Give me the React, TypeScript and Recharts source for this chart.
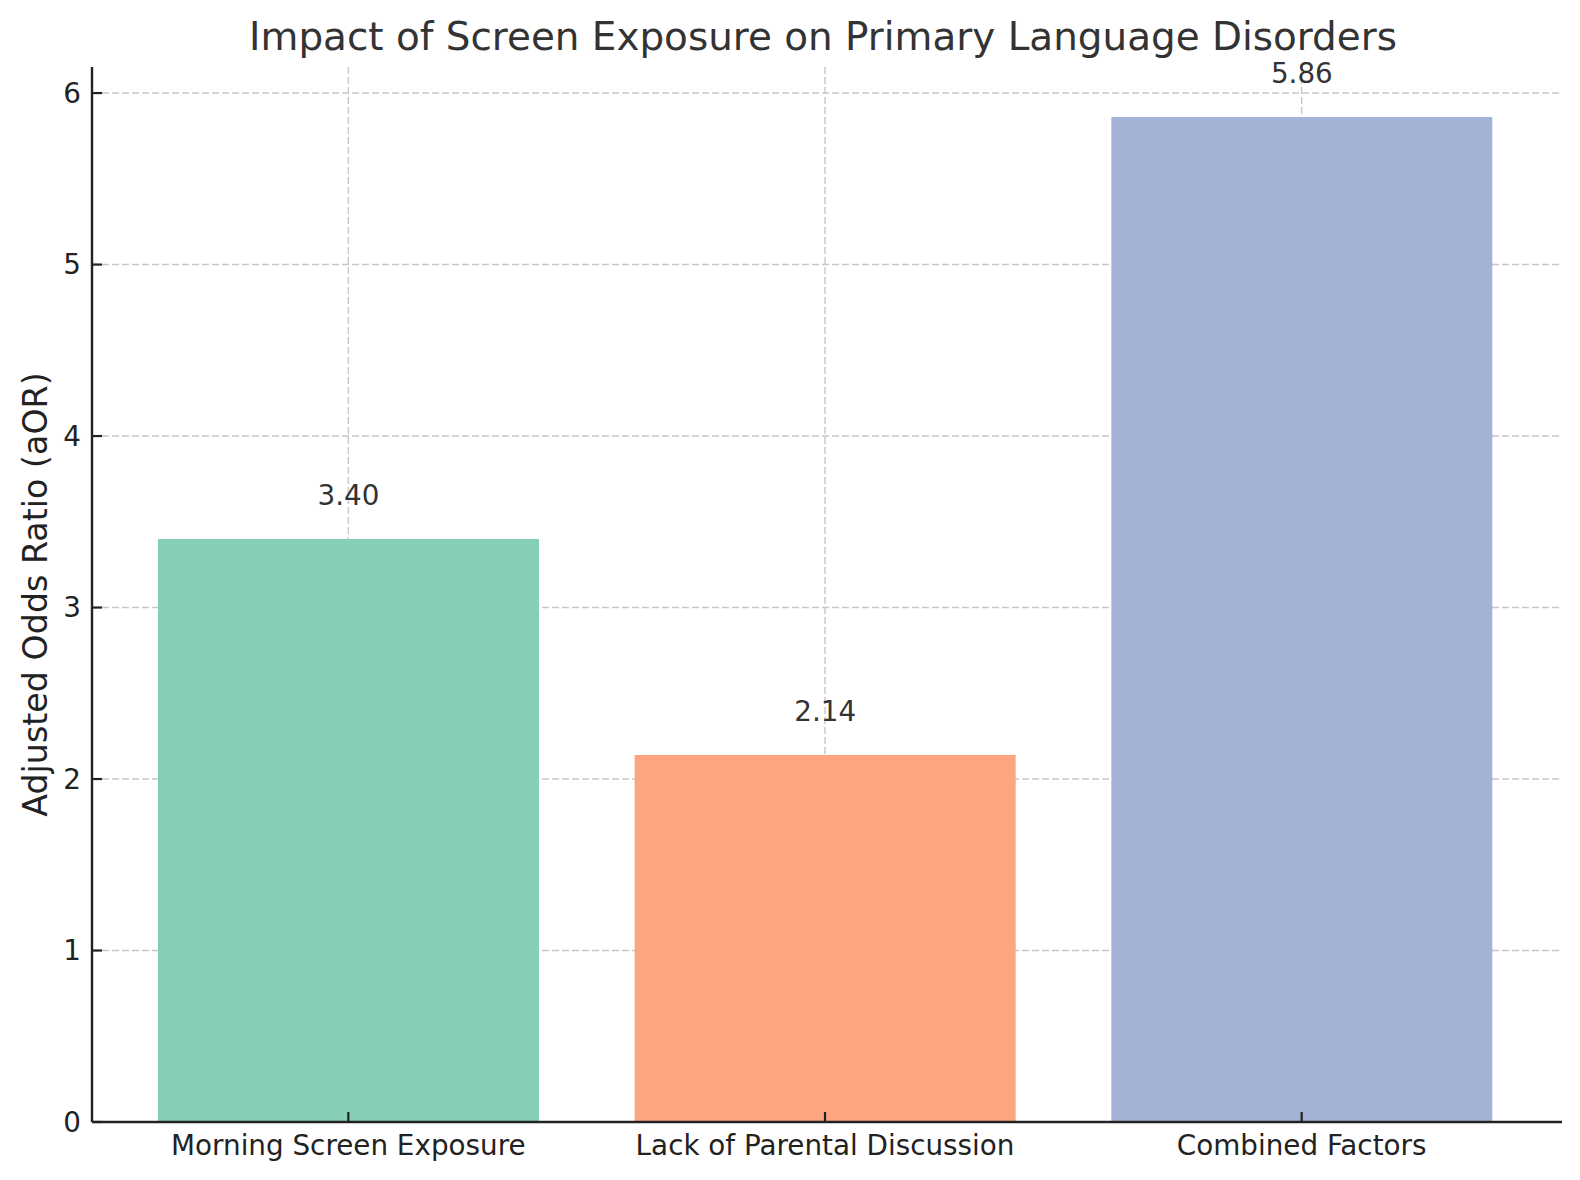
import React from "react";
import { BarChart, Bar, Cell, XAxis, YAxis, CartesianGrid, LabelList } from "recharts";

// Chart data
const categories = ["Morning Screen Exposure", "Lack of Parental Discussion", "Combined Factors"];
const aorValues = [3.4, 2.14, 5.86];
const barColors = ["#85CEB7", "#FDA481", "#A4B3D5"];
const yTicks = [0, 1, 2, 3, 4, 5, 6];

const data = categories.map((name, i) => ({ name, aor: aorValues[i] }));

const FONT = "'DejaVu Sans', sans-serif";
const TICK_LEN = 10;

// ticks point inward (matplotlib direction="in"), so draw the mark and label ourselves
const XTick = (props: any) => {
    const { x, y, payload } = props;
    return (
        <g>
            <line x1={x} y1={y} x2={x} y2={y - TICK_LEN} stroke="#222" strokeWidth={2.2} />
            <text x={x} y={y + 33} textAnchor="middle" fontSize={27.8} fill="#222" fontFamily={FONT}>
                {payload.value}
            </text>
        </g>
    );
};

const YTick = (props: any) => {
    const { x, y, payload } = props;
    return (
        <g>
            <line x1={x} y1={y} x2={x + TICK_LEN} y2={y} stroke="#222" strokeWidth={2.2} />
            <text x={x - 11} y={y} textAnchor="end" dominantBaseline="central" fontSize={27.8} fill="#222" fontFamily={FONT}>
                {payload.value}
            </text>
        </g>
    );
};

const ValueLabel = (props: any) => {
    const { x, y, width, value } = props;
    return (
        <text x={x + width / 2} y={y - 34} textAnchor="middle" fontSize={27.8} fill="#333" fontFamily={FONT}>
            {Number(value).toFixed(2)}
        </text>
    );
};

const YLabel = (props: any) => {
    const { viewBox } = props;
    const cx = viewBox.x + 35;
    const cy = viewBox.y + viewBox.height / 2;
    return (
        <text
            x={cx}
            y={cy}
            transform={`rotate(-90, ${cx}, ${cy})`}
            textAnchor="middle"
            dominantBaseline="central"
            fontSize={33.3}
            fill="#222"
            fontFamily={FONT}
        >
            Adjusted Odds Ratio (aOR)
        </text>
    );
};

export default function App() {
    return (
        <div style={{ position: "fixed", left: 0, top: 0, width: 1580, height: 1180, background: "#fff", fontFamily: FONT }}>
            <div
                style={{
                    position: "absolute",
                    left: 88,
                    width: 1470,
                    top: 16,
                    textAlign: "center",
                    fontSize: 38.9,
                    lineHeight: "42px",
                    color: "#333",
                }}
            >
                Impact of Screen Exposure on Primary Language Disorders
            </div>
            <BarChart width={1580} height={1180} data={data} margin={{ top: 67, right: 18, bottom: 0, left: 0 }}>
                <CartesianGrid stroke="#c8c8c8" strokeDasharray="7 3" strokeWidth={1.4} syncWithTicks />
                <XAxis
                    dataKey="name"
                    height={58}
                    padding={{ left: 18, right: 22 }}
                    axisLine={{ stroke: "#222", strokeWidth: 2.4 }}
                    tickLine={false}
                    tickSize={0}
                    tickMargin={0}
                    tick={<XTick />}
                    interval={0}
                />
                <YAxis
                    width={92}
                    domain={[0, 6.152]}
                    ticks={yTicks}
                    allowDataOverflow
                    axisLine={{ stroke: "#222", strokeWidth: 2.4 }}
                    tickLine={false}
                    tickSize={0}
                    tickMargin={0}
                    tick={<YTick />}
                    label={<YLabel />}
                />
                <Bar dataKey="aor" barSize={381} isAnimationActive={false}>
                    {data.map((d, i) => (
                        <Cell key={d.name} fill={barColors[i]} />
                    ))}
                    <LabelList dataKey="aor" content={<ValueLabel />} />
                </Bar>
            </BarChart>
        </div>
    );
}
